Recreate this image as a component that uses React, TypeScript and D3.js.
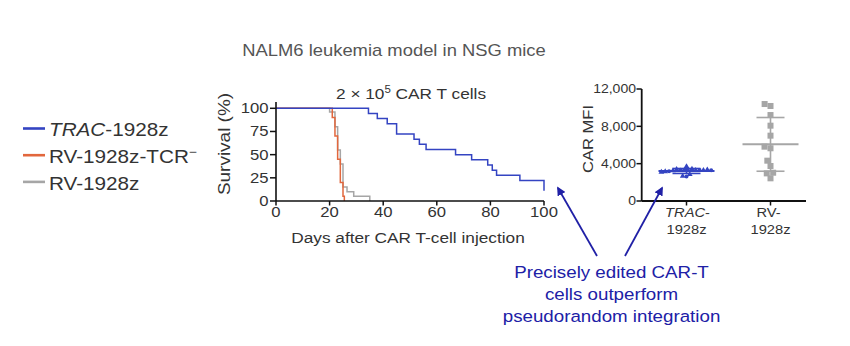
import React from 'react';
import * as d3 from 'd3';

// ---------- data ----------
const seriesNames = ['TRAC-1928z', 'RV-1928z-TCR-', 'RV-1928z'];
const tracDays = [0, 34.5, 37.8, 41.5, 45, 51.5, 53.5, 56, 67, 73, 79, 80.7, 82.3, 91, 100];
const tracSurv = [100, 94.4, 88.9, 83.3, 72.2, 66.7, 61.1, 55.6, 50, 44.4, 38.9, 33.3, 27.8, 22.2, 11.1];
const rvTcrDays = [0, 21, 22, 23, 24, 25, 25.5];
const rvTcrSurv = [100, 90, 70, 45, 20, 5, 0];
const rvDays = [0, 20, 22, 23, 24, 25, 26.5, 29, 35];
const rvSurv = [100, 96, 80, 55, 40, 15, 10, 5, 0];
const dayTicks = [0, 20, 40, 60, 80, 100];
const survTicks = [0, 25, 50, 75, 100];

const mfiCategories = ['TRAC', 'RV'];
const tracMfi = [3700, 2620, 2680, 2850, 3350, 3300, 3420, 3350, 3280, 3400, 3320, 3250, 3300, 3200, 3350, 3150, 3300, 3100];
const rvMfi = [2430, 2960, 3030, 3750, 4320, 5650, 5820, 7000, 8070, 9210, 10180, 10390];
const mfiTicks = [0, 4000, 8000, 12000];

// ---------- style ----------
const FONT = "'Liberation Sans', Arial, Helvetica, sans-serif";
const SX = 1.15;
const BLUE = '#3444c2';
const ORANGE = '#e2673d';
const GRAY = '#a6a6a6';
const NAVY = '#2020a6';
const TXT = '#333333';

function Txt({ x, y, size, anchor = 'start', fill = TXT, rot = false, children }: any) {
  const t = rot
    ? `translate(${x},${y}) rotate(-90) scale(${SX},1)`
    : `translate(${x},${y}) scale(${SX},1)`;
  return (
    <text transform={t} fontSize={size} textAnchor={anchor} fill={fill} fontFamily={FONT}>
      {children}
    </text>
  );
}

function dodge(values: number[], yScale: (v: number) => number, d: number) {
  const placed: { v: number; y: number; dx: number }[] = [];
  for (const v of values) {
    const yy = yScale(v);
    const forb: [number, number][] = [];
    const cands = [0];
    for (const p of placed) {
      const dy = Math.abs(p.y - yy);
      if (dy < d) {
        const w = Math.sqrt(d * d - dy * dy);
        forb.push([p.dx - w, p.dx + w]);
        cands.push(p.dx - w, p.dx + w);
      }
    }
    cands.sort((a, b) => Math.abs(a) - Math.abs(b));
    let best = 0;
    for (const c of cands) {
      if (!forb.some(([a, b]) => c > a + 1e-6 && c < b - 1e-6)) {
        best = c;
        break;
      }
    }
    placed.push({ v, y: yy, dx: best });
  }
  return placed;
}

export default function App() {
  // left chart scales
  const x = d3.scaleLinear().domain([0, 100]).range([276, 544]);
  const y = d3.scaleLinear().domain([0, 100]).range([201, 108.3]);
  const line = d3
    .line<[number, number]>()
    .x((d) => x(d[0]))
    .y((d) => y(d[1]))
    .curve(d3.curveStepAfter);
  const curves = [
    { days: rvDays, surv: rvSurv, color: GRAY },
    { days: rvTcrDays, surv: rvTcrSurv, color: ORANGE },
    { days: tracDays, surv: tracSurv, color: BLUE },
  ];

  // right chart scales
  const ym = d3.scaleLinear().domain([0, 12000]).range([201, 89]);
  const xc = d3.scalePoint<string>().domain(mfiCategories).range([686.5, 770.5]);
  const fmt = d3.format(',');
  const tracPts = dodge(tracMfi, ym, 3.9);
  const rvPts = dodge(rvMfi, ym, 6.2);
  const stats = [
    { cat: 'TRAC', vals: tracMfi, color: BLUE },
    { cat: 'RV', vals: rvMfi, color: GRAY },
  ];
  const tri = d3.symbol().type(d3.symbolTriangle).size(14)();

  const legendColors = [BLUE, ORANGE, GRAY];

  return (
    <svg
      width={850}
      height={346}
      style={{ position: 'absolute', left: 0, top: 0, background: '#fff' }}
    >
      <defs>
        <marker id="ah" viewBox="0 0 10 10" refX="8" refY="5" markerWidth="5" markerHeight="5" orient="auto">
          <path d="M0,0 L10,5 L0,10 z" fill={NAVY} />
        </marker>
      </defs>
      <rect width={850} height={346} fill="#fff" />

      {/* main title */}
      <Txt x={394} y={55.5} size={16} anchor="middle" fill="#555">
        NALM6 leukemia model in NSG mice
      </Txt>

      {/* legend */}
      {seriesNames.map((name, i) => (
        <g key={name}>
          <line x1={23} x2={45} y1={128.5 + i * 26.7} y2={128.5 + i * 26.7} stroke={legendColors[i]} strokeWidth={2.6} />
          <Txt x={49} y={136 + i * 26.8} size={18}>
            {i === 0 ? (
              <>
                <tspan fontStyle="italic">TRAC</tspan>
                <tspan>-1928z</tspan>
              </>
            ) : i === 1 ? (
              <>
                <tspan>RV-1928z-TCR</tspan>
                <tspan dy={-7} fontSize={12}>−</tspan>
              </>
            ) : (
              <tspan>RV-1928z</tspan>
            )}
          </Txt>
        </g>
      ))}

      {/* left chart title */}
      <Txt x={411} y={98.5} size={15} anchor="middle">
        <tspan>2 × 10</tspan>
        <tspan dy={-6} fontSize={10}>5</tspan>
        <tspan dy={6}> CAR T cells</tspan>
      </Txt>

      {/* survival curves */}
      {curves.map((c, i) => (
        <path
          key={i}
          d={line(c.days.map((d, j) => [d, c.surv[j]] as [number, number])) || ''}
          fill="none"
          stroke={c.color}
          strokeWidth={1.5}
        />
      ))}

      {/* left axes */}
      <line x1={x(0)} x2={x(0)} y1={102} y2={y(0)} stroke="#111" strokeWidth={1.6} />
      <line x1={x(0)} x2={x(100)} y1={y(0)} y2={y(0)} stroke="#111" strokeWidth={1.6} />
      {survTicks.map((t) => (
        <g key={'ys' + t}>
          <line x1={x(0) - 6} x2={x(0)} y1={y(t)} y2={y(t)} stroke="#111" strokeWidth={1.5} />
          <Txt x={268.5} y={y(t) + 5} size={14.5} anchor="end">
            {t}
          </Txt>
        </g>
      ))}
      {dayTicks.map((t) => (
        <g key={'xd' + t}>
          <line x1={x(t)} x2={x(t)} y1={y(0)} y2={y(0) + 4.5} stroke="#111" strokeWidth={1.5} />
          <Txt x={x(t)} y={217} size={14.5} anchor="middle">
            {t}
          </Txt>
        </g>
      ))}
      <Txt x={408} y={243} size={15} anchor="middle">
        Days after CAR T-cell injection
      </Txt>
      <Txt x={230} y={144} size={16.5} anchor="middle" rot>
        Survival (%)
      </Txt>

      {/* right chart */}
      {stats.map((s) => {
        const m = d3.mean(s.vals) as number;
        const sd = d3.deviation(s.vals) as number;
        const cx = xc(s.cat) as number;
        return (
          <g key={s.cat} stroke={s.color} strokeWidth={1.6}>
            <line x1={cx} x2={cx} y1={ym(m + sd)} y2={ym(m - sd)} />
            <line x1={cx - 28} x2={cx + 28} y1={ym(m)} y2={ym(m)} strokeWidth={2} />
            <line x1={cx - 14} x2={cx + 14} y1={ym(m + sd)} y2={ym(m + sd)} />
            <line x1={cx - 14} x2={cx + 14} y1={ym(m - sd)} y2={ym(m - sd)} />
          </g>
        );
      })}
      {rvPts.map((p, i) => (
        <rect
          key={'rv' + i}
          x={(xc('RV') as number) + p.dx - 3}
          y={p.y - 3}
          width={6}
          height={6}
          fill={GRAY}
        />
      ))}
      {tracPts.map((p, i) =>
        i % 3 === 1 ? (
          <circle key={'tr' + i} cx={(xc('TRAC') as number) + p.dx} cy={p.y} r={2} fill={BLUE} />
        ) : (
          <path
            key={'tr' + i}
            d={tri || ''}
            transform={`translate(${(xc('TRAC') as number) + p.dx},${p.y})`}
            fill={BLUE}
          />
        )
      )}

      <line x1={641.7} x2={641.7} y1={ym(12000)} y2={ym(0)} stroke="#111" strokeWidth={1.8} />
      <line x1={641.7} x2={806} y1={ym(0)} y2={ym(0)} stroke="#111" strokeWidth={1.8} />
      {mfiTicks.map((t) => (
        <g key={'ym' + t}>
          <line x1={636.5} x2={641.7} y1={ym(t)} y2={ym(t)} stroke="#111" strokeWidth={1.5} />
          <Txt x={636} y={ym(t) + 4.3} size={12.2} anchor="end">
            {fmt(t)}
          </Txt>
        </g>
      ))}
      {mfiCategories.map((c) => (
        <line
          key={'xc' + c}
          x1={xc(c) as number}
          x2={xc(c) as number}
          y1={ym(0)}
          y2={ym(0) + 4.5}
          stroke="#111"
          strokeWidth={1.5}
        />
      ))}
      <Txt x={(xc('TRAC') as number) + 1} y={217} size={12.8} anchor="middle">
        <tspan fontStyle="italic">TRAC</tspan>
        <tspan>-</tspan>
      </Txt>
      <Txt x={xc('TRAC') as number} y={233.5} size={12.8} anchor="middle">
        1928z
      </Txt>
      <Txt x={(xc('RV') as number) - 2} y={217} size={12.8} anchor="middle">
        RV-
      </Txt>
      <Txt x={xc('RV') as number} y={233.5} size={12.8} anchor="middle">
        1928z
      </Txt>
      <Txt x={593} y={139} size={14.4} anchor="middle" rot>
        CAR MFI
      </Txt>

      {/* annotation */}
      <line x1={597} y1={256} x2={558} y2={188} stroke={NAVY} strokeWidth={1.8} markerEnd="url(#ah)" />
      <line x1={625} y1={256} x2={662} y2={188} stroke={NAVY} strokeWidth={1.8} markerEnd="url(#ah)" />
      <Txt x={611.5} y={278} size={16.3} anchor="middle" fill={NAVY}>
        Precisely edited CAR-T
      </Txt>
      <Txt x={611.5} y={300} size={16.3} anchor="middle" fill={NAVY}>
        cells outperform
      </Txt>
      <Txt x={611.5} y={322} size={16.3} anchor="middle" fill={NAVY}>
        pseudorandom integration
      </Txt>
    </svg>
  );
}
